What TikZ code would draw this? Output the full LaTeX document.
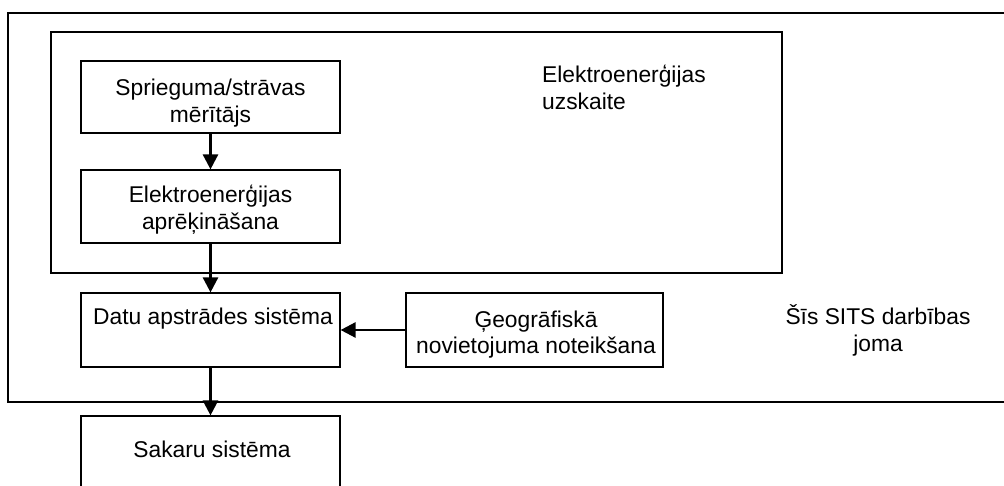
\documentclass[tikz,border=0pt]{standalone}
\usepackage{fontspec}
\setmainfont{Liberation Sans}
\usetikzlibrary{arrows.meta}
\tikzset{
  frame/.style={draw=black, line width=1.2pt},
  box/.style={draw=black, line width=1.2pt, fill=none, inner sep=0pt},
  txt/.style={anchor=base, inner sep=0pt, font=\fontsize{22.8}{27}\selectfont},
  txtl/.style={anchor=base west, inner sep=0pt, font=\fontsize{22.8}{27}\selectfont},
  flow/.style={line width=2.6pt, -{Triangle[length=15pt,width=15pt]}},
}
\begin{document}
\begin{tikzpicture}[x=1pt,y=-1pt]
\clip (0,0) rectangle (1004,485);
\fill[white] (0,0) rectangle (1004,485);
% outer and inner frames
\draw[frame] (1030,13) -- (8,13) -- (8,402) -- (1030,402);
\draw[frame] (51,32) rectangle (782,273);
% boxes
\node[box, minimum width=259pt, minimum height=72pt] (b1) at (210.5,97) {};
\node[box, minimum width=259pt, minimum height=73pt] (b2) at (210.5,206.5) {};
\node[box, minimum width=259pt, minimum height=74pt] (b3) at (210.5,330) {};
\node[box, minimum width=257pt, minimum height=74pt] (b4) at (534.5,330) {};
\node[box, minimum width=259pt, minimum height=140pt] (b5) at (210.5,486) {};
% texts
\node[txt] (t1a) at (210.5,95) {Sprieguma/strāvas};
\node[txt] (t1b) at (210.5,122) {mērītājs};
\node[txt] (t2a) at (210.5,202) {Elektroenerģijas};
\node[txt] (t2b) at (210.5,229) {aprēķināšana};
\node[txt] (t3) at (213,324) {Datu apstrādes sistēma};
\node[txt] (t4a) at (536,327) {Ģeogrāfiskā};
\node[txt] (t4b) at (536,353) {novietojuma noteikšana};
\node[txt] (t5) at (212,457) {Sakaru sistēma};
\node[txtl] (tea) at (542,82) {Elektroenerģijas};
\node[txtl] (teb) at (542,109) {uzskaite};
\node[txt] (tsa) at (878,324) {Šīs SITS darbības};
\node[txt] (tsb) at (878,351) {joma};
% connectors
\draw[flow] (b1.south) -- (b2.north);
\draw[flow] (b2.south) -- (b3.north);
\draw[flow] (b3.south) -- (b5.north);
\draw[flow] (b4.west) -- (b3.east);
\end{tikzpicture}
\end{document}
